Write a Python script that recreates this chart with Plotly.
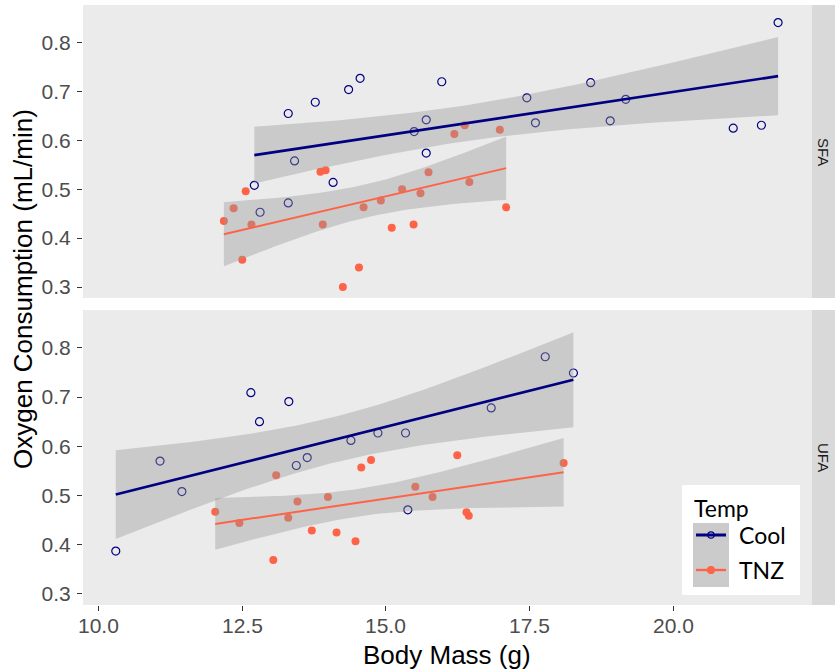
import numpy as np
import plotly.graph_objects as go

# ---- data: body mass (g) and oxygen consumption (mL/min) per diet / temperature ----
sfa_cool_mass = [12.71, 12.81, 13.30, 13.41, 13.30, 13.77, 14.08, 14.35, 14.55, 15.49,
                 15.70, 15.70, 15.97, 17.45, 17.60, 18.56, 18.90, 19.17, 21.04, 21.53, 21.82]
sfa_cool_vo2 = [0.508, 0.453, 0.655, 0.558, 0.472, 0.678, 0.514, 0.704, 0.727, 0.618,
                0.642, 0.574, 0.720, 0.687, 0.636, 0.718, 0.640, 0.684, 0.625, 0.631, 0.841]

sfa_tnz_mass = [12.18, 12.35, 12.56, 12.50, 12.66, 13.86, 13.95, 13.90, 14.25, 14.53,
                14.61, 14.91, 15.10, 15.28, 15.48, 15.60, 15.74, 16.19, 16.37, 16.45,
                16.98, 17.09]
sfa_tnz_vo2 = [0.435, 0.461, 0.496, 0.356, 0.428, 0.536, 0.539, 0.428, 0.300, 0.340,
               0.463, 0.477, 0.421, 0.500, 0.428, 0.492, 0.535, 0.613, 0.631, 0.515,
               0.622, 0.463]

ufa_cool_mass = [10.30, 11.07, 11.45, 12.65, 12.80, 13.31, 13.44, 13.63, 14.39, 14.86,
                 15.34, 15.38, 16.83, 17.77, 18.26]
ufa_cool_vo2 = [0.387, 0.570, 0.508, 0.709, 0.650, 0.691, 0.561, 0.577, 0.612, 0.627,
                0.627, 0.471, 0.678, 0.782, 0.749]

ufa_tnz_mass = [12.03, 12.45, 13.09, 13.04, 13.30, 13.46, 13.71, 13.99, 14.14, 14.47,
                14.57, 14.74, 15.51, 15.81, 16.24, 16.40, 16.44, 18.09]
ufa_tnz_vo2 = [0.467, 0.444, 0.541, 0.369, 0.455, 0.488, 0.429, 0.497, 0.425, 0.407,
               0.557, 0.572, 0.518, 0.497, 0.582, 0.466, 0.459, 0.566]

x_ticks = [10.0, 12.5, 15.0, 17.5, 20.0]
y_ticks = [0.3, 0.4, 0.5, 0.6, 0.7, 0.8]
facets = ["SFA", "UFA"]
temps = ["Cool", "TNZ"]

COOL = "#000080"
TNZ = "#FF6347"
PANEL_BG = "#EBEBEB"
BAND = "rgba(153,153,153,0.4)"
AXIS_FONT = "Liberation Sans, Arial, sans-serif"

# figure geometry in pixels
W, H = 835, 672
ML, MR, MT, MB = 83, 23, 5, 67
PW, PH = W - ML - MR, H - MT - MB


def px_x(px):
    return (px - ML) / PW


def px_y(py):
    return (H - MB - py) / PH


def t975(df):
    z = 1.959964
    return (z + (z**3 + z) / (4 * df) + (5 * z**5 + 16 * z**3 + 3 * z) / (96 * df**2)
            + (3 * z**7 + 19 * z**5 + 17 * z**3 - 15 * z) / (384 * df**3))


def lm_fit(x, y, n_out=80):
    """Ordinary least-squares line with 95% confidence band."""
    x = np.asarray(x, float)
    y = np.asarray(y, float)
    n = len(x)
    b, a = np.polyfit(x, y, 1)
    resid = y - (a + b * x)
    s = np.sqrt(np.sum(resid**2) / (n - 2))
    xbar = x.mean()
    sxx = np.sum((x - xbar) ** 2)
    xs = np.linspace(x.min(), x.max(), n_out)
    fit = a + b * xs
    se = s * np.sqrt(1 / n + (xs - xbar) ** 2 / sxx)
    t = t975(n - 2)
    return xs, fit, fit - t * se, fit + t * se


fig = go.Figure()

groups = {
    ("SFA", "Cool"): (sfa_cool_mass, sfa_cool_vo2),
    ("SFA", "TNZ"): (sfa_tnz_mass, sfa_tnz_vo2),
    ("UFA", "Cool"): (ufa_cool_mass, ufa_cool_vo2),
    ("UFA", "TNZ"): (ufa_tnz_mass, ufa_tnz_vo2),
}
axes = {"SFA": ("x", "y"), "UFA": ("x2", "y2")}
styles = {
    "Cool": dict(color=COOL, symbol="circle-open", size=8, lw=1.2, line_w=2.6),
    "TNZ": dict(color=TNZ, symbol="circle", size=8, lw=0, line_w=2.0),
}

# points
for facet in facets:
    xa, ya = axes[facet]
    for temp in temps:
        mx, vy = groups[(facet, temp)]
        st = styles[temp]
        fig.add_trace(go.Scatter(
            x=mx, y=vy, mode="markers", xaxis=xa, yaxis=ya, showlegend=False,
            marker=dict(symbol=st["symbol"], size=st["size"], color=st["color"],
                        line=dict(width=st["lw"], color=st["color"])),
            hoverinfo="skip"))

# regression bands and lines
for facet in facets:
    xa, ya = axes[facet]
    for temp in temps:
        mx, vy = groups[(facet, temp)]
        xs, fit, lo, hi = lm_fit(mx, vy)
        fig.add_trace(go.Scatter(
            x=np.concatenate([xs, xs[::-1]]), y=np.concatenate([hi, lo[::-1]]),
            fill="toself", fillcolor=BAND, line=dict(width=0), mode="lines",
            xaxis=xa, yaxis=ya, showlegend=False, hoverinfo="skip"))
    for temp in temps:
        mx, vy = groups[(facet, temp)]
        xs, fit, lo, hi = lm_fit(mx, vy)
        fig.add_trace(go.Scatter(
            x=xs, y=fit, mode="lines", xaxis=xa, yaxis=ya, showlegend=False,
            line=dict(color=styles[temp]["color"], width=styles[temp]["line_w"]),
            hoverinfo="skip"))

x_range = [9.73, 22.41]
y_range = [0.2775, 0.877]
tick_font = dict(family=AXIS_FONT, size=21, color="#4D4D4D")

top_dom = [px_y(298), 1.0]
bot_dom = [0.0, px_y(310)]

common_x = dict(range=x_range, showgrid=False, zeroline=False,
                ticklen=5, tickcolor="#333333", tickwidth=1, tickvals=x_ticks,
                showticklabels=False, showline=False)
common_y = dict(range=y_range, showgrid=False, zeroline=False, ticks="outside",
                ticklen=5, tickcolor="#333333", tickwidth=1, tickvals=y_ticks,
                ticktext=[f"{v:.1f}" for v in y_ticks], tickfont=tick_font,
                showline=False, ticklabelstandoff=2)

fig.update_layout(
    width=W, height=H,
    margin=dict(l=ML, r=MR, t=MT, b=MB),
    paper_bgcolor="white",
    plot_bgcolor=PANEL_BG,
    showlegend=False,
    xaxis=dict(**common_x, ticks="", domain=[0, 1], anchor="y", matches="x2"),
    yaxis=dict(**common_y, domain=top_dom, anchor="x"),
    xaxis2=dict(**common_x, ticks="outside", domain=[0, 1], anchor="y2"),
    yaxis2=dict(**common_y, domain=bot_dom, anchor="x2"),
)

shapes = []
annotations = []

# x tick labels under the bottom facet, placed on the data axis
for v in x_ticks:
    annotations.append(dict(text=f"{v:.1f}", xref="x2", yref="paper", x=v,
                            y=px_y(625), showarrow=False, xanchor="center",
                            yanchor="middle", font=tick_font))

# panel backgrounds for both facets
for xa, ya in [("x", "y"), ("x2", "y2")]:
    shapes.append(dict(type="rect", xref=f"{xa} domain", yref=f"{ya} domain",
                       x0=0, x1=1, y0=0, y1=1, fillcolor=PANEL_BG, line=dict(width=0),
                       layer="below"))

# facet strips on the right
for facet, dom in zip(facets, [top_dom, bot_dom]):
    shapes.append(dict(type="rect", xref="paper", yref="paper",
                       x0=1.0, x1=px_x(835), y0=dom[0], y1=dom[1],
                       fillcolor="#D9D9D9", line=dict(width=0)))
    annotations.append(dict(text=facet, xref="paper", yref="paper",
                            x=px_x(823.5), y=(dom[0] + dom[1]) / 2, showarrow=False,
                            textangle=90, xanchor="center", yanchor="middle",
                            font=dict(family=AXIS_FONT, size=15, color="#1A1A1A")))

# axis titles
annotations.append(dict(text="Oxygen Consumption (mL/min)", xref="paper", yref="paper",
                        x=px_x(23), y=px_y(289), showarrow=False, textangle=-90,
                        xanchor="center", yanchor="middle",
                        font=dict(family=AXIS_FONT, size=26, color="black")))
annotations.append(dict(text="Body Mass (g)", xref="paper", yref="paper",
                        x=px_x(447), y=px_y(655), showarrow=False,
                        xanchor="center", yanchor="middle",
                        font=dict(family=AXIS_FONT, size=26, color="black")))

# legend drawn in the lower panel
leg_font = "Lato, Carlito, Calibri, sans-serif"
shapes.append(dict(type="rect", xref="paper", yref="paper",
                   x0=px_x(682), x1=px_x(800), y0=px_y(595), y1=px_y(485),
                   fillcolor="white", line=dict(width=0)))
shapes.append(dict(type="rect", xref="paper", yref="paper",
                   x0=px_x(693), x1=px_x(729), y0=px_y(587), y1=px_y(523),
                   fillcolor="#CBCBCB", line=dict(width=0)))
annotations.append(dict(text="Temp", xref="paper", yref="paper", x=px_x(692),
                        y=px_y(508), showarrow=False, xanchor="left", yanchor="middle",
                        font=dict(family=leg_font, size=23, color="black")))
for temp, py in zip(temps, [535, 570]):
    st = styles[temp]
    shapes.append(dict(type="line", xref="paper", yref="paper",
                       x0=px_x(696), x1=px_x(726), y0=px_y(py), y1=px_y(py),
                       line=dict(color=st["color"], width=st["line_w"] + 0.4)))
    r = 3.2 if temp == "Cool" else 3.5
    shapes.append(dict(type="circle", xref="paper", yref="paper",
                       x0=px_x(711 - r), x1=px_x(711 + r),
                       y0=px_y(py + r), y1=px_y(py - r),
                       fillcolor=st["color"] if temp == "TNZ" else "rgba(0,0,0,0)",
                       line=dict(color=st["color"], width=1.2)))
    annotations.append(dict(text=temp, xref="paper", yref="paper", x=px_x(737),
                            y=px_y(py), showarrow=False, xanchor="left",
                            yanchor="middle",
                            font=dict(family=leg_font, size=23, color="black")))

fig.update_layout(shapes=shapes, annotations=annotations)

fig.write_html("out.html")
